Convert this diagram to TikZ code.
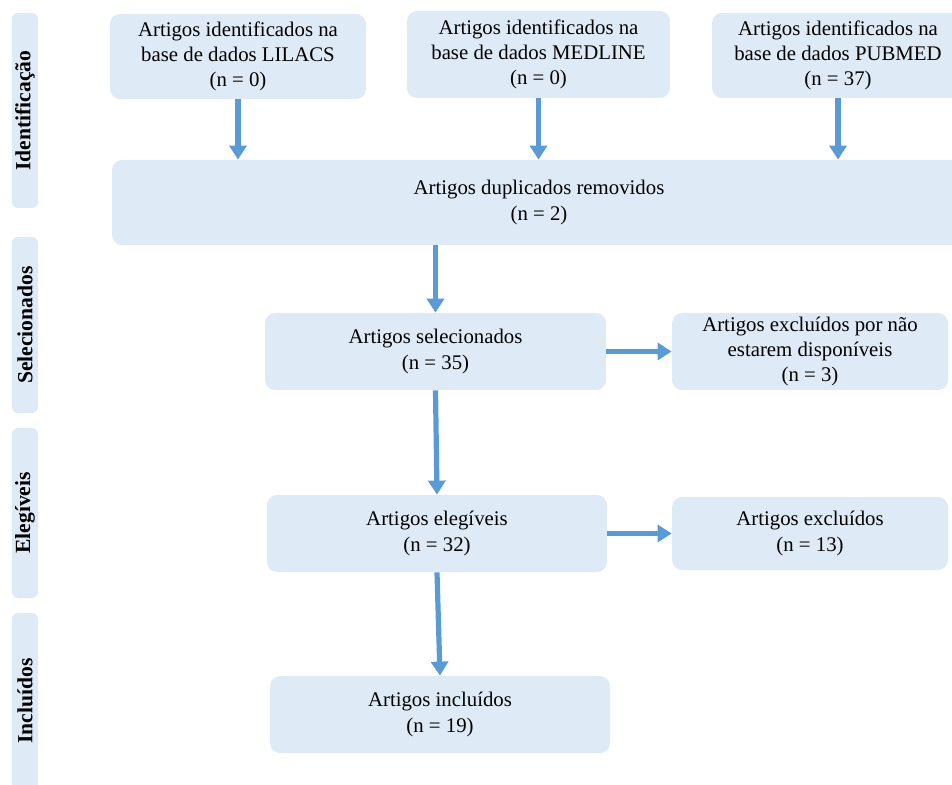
\documentclass[tikz,border=0pt]{standalone}
\usepackage{fontspec}
\setmainfont{Liberation Serif}
\usetikzlibrary{arrows.meta}
\definecolor{caixa}{HTML}{DEEAF6}
\definecolor{seta}{HTML}{5B9BD5}
\begin{document}
\begin{tikzpicture}[x=0.5pt, y=-0.5pt,
  box/.style={rectangle, fill=caixa, rounded corners=5pt, align=center, inner sep=0pt,
    font=\fontsize{10.4}{12}\selectfont},
  lateral/.style={rectangle, fill=caixa, rounded corners=3pt, minimum width=13pt, inner sep=0pt},
  fase/.style={rotate=90, font=\fontsize{10.8}{12}\selectfont\bfseries},
  fluxo/.style={draw=seta, line width=2.6pt, -{Triangle[width=8.5pt, length=7pt]}}]
  \useasboundingbox (0,0) rectangle (952,785);
  % fases
  \node[lateral, minimum height=97.5pt] (fid) at (25,110.5) {};
  \node[fase] at (fid) {Identificação};
  \node[lateral, minimum height=88pt] (fsel) at (25,325) {};
  \node[fase] at (fsel) {Selecionados};
  \node[lateral, minimum height=85pt] (fele) at (25,513) {};
  \node[fase] at (fele) {Elegíveis};
  \node[lateral, minimum height=88pt] (finc) at (25,701) {};
  \node[fase] at (finc) {Incluídos};
  % caixas
  \node[box, minimum width=128pt, minimum height=42.5pt] (lilacs) at (238,56.5) {Artigos identificados na\\[0.6pt]base de dados LILACS\\[0.6pt](n = 0)};
  \node[box, minimum width=131.5pt, minimum height=43.5pt] (medline) at (538.5,54.5) {Artigos identificados na\\[0.6pt]base de dados MEDLINE\\[0.6pt](n = 0)};
  \node[box, minimum width=126pt, minimum height=42.5pt] (pubmed) at (838,55.5) {Artigos identificados na\\[0.6pt]base de dados PUBMED\\[0.6pt](n = 37)};
  \node[box, minimum width=427pt, minimum height=42.5pt] (dup) at (539,202.5) {Artigos duplicados removidos\\[0.6pt](n = 2)};
  \node[box, minimum width=170.5pt, minimum height=38.5pt] (sel) at (435.5,351.5) {Artigos selecionados\\[0.6pt](n = 35)};
  \node[box, minimum width=138pt, minimum height=38.5pt] (exc1) at (810,351.5) {Artigos excluídos por não\\[0.6pt]estarem disponíveis\\[0.6pt](n = 3)};
  \node[box, minimum width=170pt, minimum height=38.5pt] (eleg) at (437,533.5) {Artigos elegíveis\\[0.6pt](n = 32)};
  \node[box, minimum width=138pt, minimum height=36.5pt] (exc2) at (810,533.5) {Artigos excluídos\\[0.6pt](n = 13)};
  \node[box, minimum width=170pt, minimum height=38.5pt] (incl) at (440,714.5) {Artigos incluídos\\[0.6pt](n = 19)};
  % setas
  \draw[fluxo] (lilacs.south) -- (lilacs.south |- dup.north);
  \draw[fluxo] (medline.south) -- (medline.south |- dup.north);
  \draw[fluxo] (pubmed.south) -- (pubmed.south |- dup.north);
  \draw[fluxo] (sel.north |- dup.south) -- (sel.north);
  \draw[fluxo] (sel.east) -- (exc1.west);
  \draw[fluxo] (sel.south) -- (eleg.north);
  \draw[fluxo] (eleg.east) -- (exc2.west);
  \draw[fluxo] (eleg.south) -- (incl.north);
\end{tikzpicture}
\end{document}
